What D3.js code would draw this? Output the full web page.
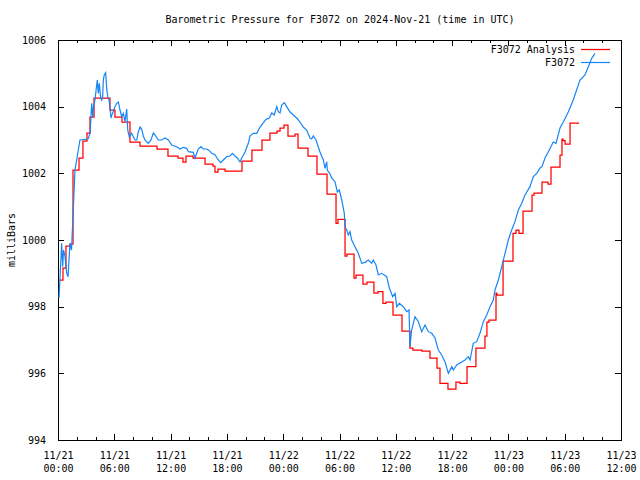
<!DOCTYPE html>
<html><head><meta charset="utf-8">
<script src="https://cdn.jsdelivr.net/npm/d3@7"></script>
<style>
body{margin:0;background:#fff}
svg{display:block}
text{font-family:"DejaVu Sans Mono","Liberation Mono",monospace;font-size:10px;fill:#000}
</style>
</head><body><svg id="c" width="640" height="480"></svg>
<script>
const title = "Barometric Pressure for F3072 on 2024-Nov-21 (time in UTC)";
const yLabel = "milliBars";
const seriesNames = ["F3072 Analysis", "F3072"];
const seriesColors = ["#ff0000", "#1586f5"];
const xTickHours = [0, 6, 12, 18, 24, 30, 36, 42, 48, 54, 60];
const xTickDates = ["11/21","11/21","11/21","11/21","11/22","11/22","11/22","11/22","11/23","11/23","11/23"];
const xTickTimes = ["00:00","06:00","12:00","18:00","00:00","06:00","12:00","18:00","00:00","06:00","12:00"];
const xMinorHours = d3.range(0, 61, 2);
const yTicks = [994, 996, 998, 1000, 1002, 1004, 1006];

// Analysis (stepped), hours since 2024-11-21 00:00 UTC
const analysisHours = [0.21,0.53,0.85,1.28,1.60,2.24,2.66,3.09,3.41,3.84,5.54,6.07,6.82,7.67,8.74,10.55,11.72,12.79,13.32,13.64,14.39,15.67,16.52,16.73,17.05,17.80,19.61,20.67,21.74,22.59,23.34,23.66,24.08,24.51,25.26,25.58,26.64,27.60,28.67,29.63,29.84,30.59,30.80,31.55,31.76,32.50,32.93,33.67,34.10,34.63,34.95,35.70,36.66,37.51,37.83,38.79,39.64,40.39,40.71,41.56,42.41,42.84,43.59,44.54,45.50,45.71,45.93,46.68,46.78,47.43,48.49,48.81,49.13,49.56,50.52,50.73,51.58,52.22,52.54,53.50,53.71,53.82,54.04,54.57,55.53];
const analysisValues = [998.8,999.16,999.82,999.88,1002.1,1002.46,1002.97,1003.21,1003.69,1004.26,1003.9,1003.69,1003.54,1002.94,1002.82,1002.73,1002.52,1002.46,1002.34,1002.52,1002.46,1002.28,1002.22,1002.04,1002.13,1002.07,1002.37,1002.7,1003.0,1003.21,1003.27,1003.36,1003.45,1003.12,1003.18,1002.76,1002.52,1001.98,1001.38,1000.5,1000.62,999.52,999.58,998.86,998.95,998.68,998.74,998.41,998.45,998.1,998.14,997.75,997.27,996.76,996.7,996.67,996.46,996.16,995.7,995.53,995.74,995.7,996.2,996.76,997.12,997.54,997.6,998.41,998.35,999.37,1000.2,1000.3,1000.2,1000.87,1001.35,1001.41,1001.74,1001.68,1002.19,1002.55,1003.03,1002.98,1002.88,1003.51,1003.51];

// Observations F3072
const obsHours = [0.11,0.39,0.50,0.59,0.75,0.93,1.07,1.28,1.44,1.63,1.81,2.08,2.34,3.20,3.41,3.48,3.59,3.70,3.76,3.94,4.12,4.19,4.29,4.40,4.55,4.66,4.76,4.83,4.93,5.08,5.19,5.30,5.44,5.54,5.65,5.75,5.89,6.07,6.26,6.43,6.61,6.79,6.96,7.14,7.32,7.43,7.60,7.85,8.02,8.21,8.39,8.56,8.74,8.92,9.09,9.27,9.62,9.91,10.16,10.34,10.69,11.05,11.40,11.76,12.12,12.65,13.00,13.35,13.72,13.89,14.42,14.60,14.95,15.24,15.48,15.85,16.13,16.38,16.73,17.08,17.34,17.62,17.98,18.33,18.58,18.86,19.11,19.40,19.58,19.93,20.28,20.46,20.81,21.18,21.53,21.88,22.17,22.52,22.78,23.05,23.31,23.48,23.66,23.84,24.12,24.37,24.73,25.08,25.44,25.79,26.14,26.50,26.86,27.04,27.21,27.50,27.92,28.28,28.46,28.64,28.70,28.99,29.17,29.52,29.77,29.98,30.24,30.51,30.59,30.77,30.94,31.12,31.30,31.65,32.00,32.19,32.37,32.72,33.07,33.43,33.60,33.89,34.14,34.50,35.03,35.31,35.67,35.92,36.10,36.38,36.80,37.16,37.41,37.51,37.69,38.05,38.40,38.76,39.11,39.47,39.83,40.18,40.53,40.89,41.25,41.60,41.96,42.13,42.49,43.03,43.38,43.73,43.91,44.26,44.62,44.97,45.33,45.69,46.04,46.39,46.57,46.93,47.29,47.64,47.99,48.35,48.70,49.06,49.42,49.77,50.30,50.66,51.02,51.37,51.58,51.90,52.25,52.78,53.07,53.50,53.85,54.38,54.91,55.27,55.63,56.16,56.52,56.88,57.23];
const obsValues = [998.26,999.9,999.2,999.7,999.5,999.0,998.9,999.9,999.7,1000.9,1002.1,1002.55,1003.0,1003.03,1003.2,1003.5,1004.1,1003.7,1003.95,1004.2,1004.65,1004.8,1004.4,1004.7,1004.26,1004.2,1004.3,1004.8,1004.95,1005.02,1004.55,1004.3,1004.2,1003.98,1003.66,1003.76,1003.85,1004.0,1004.1,1004.14,1003.9,1003.7,1003.8,1003.55,1003.93,1003.3,1003.09,1003.2,1003.1,1003.0,1003.0,1003.24,1003.39,1003.33,1003.12,1003.0,1002.9,1003.0,1003.21,1003.15,1003.0,1003.0,1003.06,1003.0,1002.85,1002.8,1002.73,1002.78,1002.75,1002.65,1002.63,1002.46,1002.73,1002.8,1002.73,1002.73,1002.68,1002.6,1002.56,1002.4,1002.32,1002.4,1002.5,1002.52,1002.6,1002.52,1002.46,1002.34,1002.46,1002.64,1002.9,1003.12,1003.2,1003.2,1003.39,1003.51,1003.62,1003.66,1003.81,1003.75,1004.0,1003.85,1003.81,1004.05,1004.12,1004.0,1003.84,1003.75,1003.66,1003.54,1003.39,1003.3,1003.06,1003.03,1003.12,1003.0,1002.64,1002.4,1002.15,1002.35,1002.1,1001.98,1001.86,1001.75,1001.44,1001.5,1001.2,1000.8,1000.4,1000.3,1000.15,1000.25,1000.0,999.8,999.6,999.45,999.3,999.33,999.4,999.3,999.4,999.25,998.95,999.0,998.9,998.56,998.3,998.4,998.0,998.1,998.0,997.85,997.9,996.8,997.3,997.7,997.55,997.25,997.45,997.25,997.2,997.06,996.7,996.55,996.34,996.0,996.2,996.1,996.25,996.34,996.4,996.5,996.4,996.9,996.95,997.2,997.55,997.75,998.0,998.2,998.5,998.8,999.2,999.6,1000.0,1000.3,1000.55,1000.9,1001.1,1001.35,1001.6,1001.9,1002.0,1002.16,1002.2,1002.46,1002.64,1002.94,1002.9,1003.36,1003.54,1003.84,1004.2,1004.5,1004.8,1004.95,1005.2,1005.45,1005.6];

const L = 58, R = 621, T = 40, B = 440;
const svg = d3.select("#c");
const x = d3.scaleLinear().domain([0, 60]).range([L, R]);
const y = d3.scaleLinear().domain([994, 1006]).range([B, T]);

// title
svg.append("text").attr("x", 340).attr("y", 23).attr("text-anchor", "middle").text(title);

// y label
svg.append("text").attr("transform", "translate(15,240) rotate(-90)")
  .attr("text-anchor", "middle").text(yLabel);

function strip(g){ g.select(".domain").remove(); g.selectAll("line").attr("stroke","#000"); g.attr("font-family", null).attr("font-size", null); }

// bottom major
const gB = svg.append("g").attr("transform", `translate(0,${B})`).attr("shape-rendering","crispEdges")
  .call(d3.axisBottom(x).tickValues(xTickHours).tickSize(-6).tickFormat(""));
strip(gB);
gB.selectAll(".tick").each(function(d, i){
  const t = d3.select(this).append("text").attr("text-anchor","middle").attr("fill","#000");
  t.append("tspan").attr("x",0).attr("y",19).text(xTickDates[i]);
  t.append("tspan").attr("x",0).attr("y",32).text(xTickTimes[i]);
});
const gBm = svg.append("g").attr("transform", `translate(0,${B})`).attr("shape-rendering","crispEdges")
  .call(d3.axisBottom(x).tickValues(xMinorHours.filter(h => h % 6)).tickSize(-3).tickFormat(""));
strip(gBm);
// top
const gT = svg.append("g").attr("transform", `translate(0,${T})`).attr("shape-rendering","crispEdges")
  .call(d3.axisTop(x).tickValues(xTickHours).tickSize(-6).tickFormat(""));
strip(gT);
const gTm = svg.append("g").attr("transform", `translate(0,${T})`).attr("shape-rendering","crispEdges")
  .call(d3.axisTop(x).tickValues(xMinorHours.filter(h => h % 6)).tickSize(-3).tickFormat(""));
strip(gTm);
// left
const gL = svg.append("g").attr("transform", `translate(${L},0)`).attr("shape-rendering","crispEdges")
  .call(d3.axisLeft(y).tickValues(yTicks).tickSize(-6).tickPadding(12).tickFormat(d3.format("d")));
strip(gL);
gL.selectAll("text").attr("fill","#000");
// right
const gR = svg.append("g").attr("transform", `translate(${R},0)`).attr("shape-rendering","crispEdges")
  .call(d3.axisRight(y).tickValues(yTicks).tickSize(-6).tickFormat(""));
strip(gR);

// frame
svg.append("rect").attr("x", L).attr("y", T).attr("width", R - L).attr("height", B - T)
  .attr("fill","none").attr("stroke","#000").attr("shape-rendering","crispEdges");

const analysis = analysisHours.map((h, i) => [h, analysisValues[i]]);
const obs = obsHours.map((h, i) => [h, obsValues[i]]);

svg.append("path").datum(analysis)
  .attr("d", d3.line().x(d => x(d[0])).y(d => y(d[1])).curve(d3.curveStepAfter))
  .attr("fill","none").attr("stroke", seriesColors[0]).attr("stroke-width", 1.25);

// legend
const lg = svg.append("g");
[0,1].forEach(i => {
  const yy = 49 + i * 13;
  lg.append("text").attr("x", 575).attr("y", yy + 4).attr("text-anchor","end").text(seriesNames[i]);
  lg.append("line").attr("x1", 581).attr("x2", 610).attr("y1", yy + 0.5).attr("y2", yy + 0.5)
    .attr("stroke", seriesColors[i]).attr("stroke-width", i === 0 ? 1.25 : 1.2);
});

svg.append("path").datum(obs)
  .attr("d", d3.line().x(d => x(d[0])).y(d => y(d[1])))
  .attr("fill","none").attr("stroke", seriesColors[1]).attr("stroke-width", 1.2);
</script>
</body></html>
